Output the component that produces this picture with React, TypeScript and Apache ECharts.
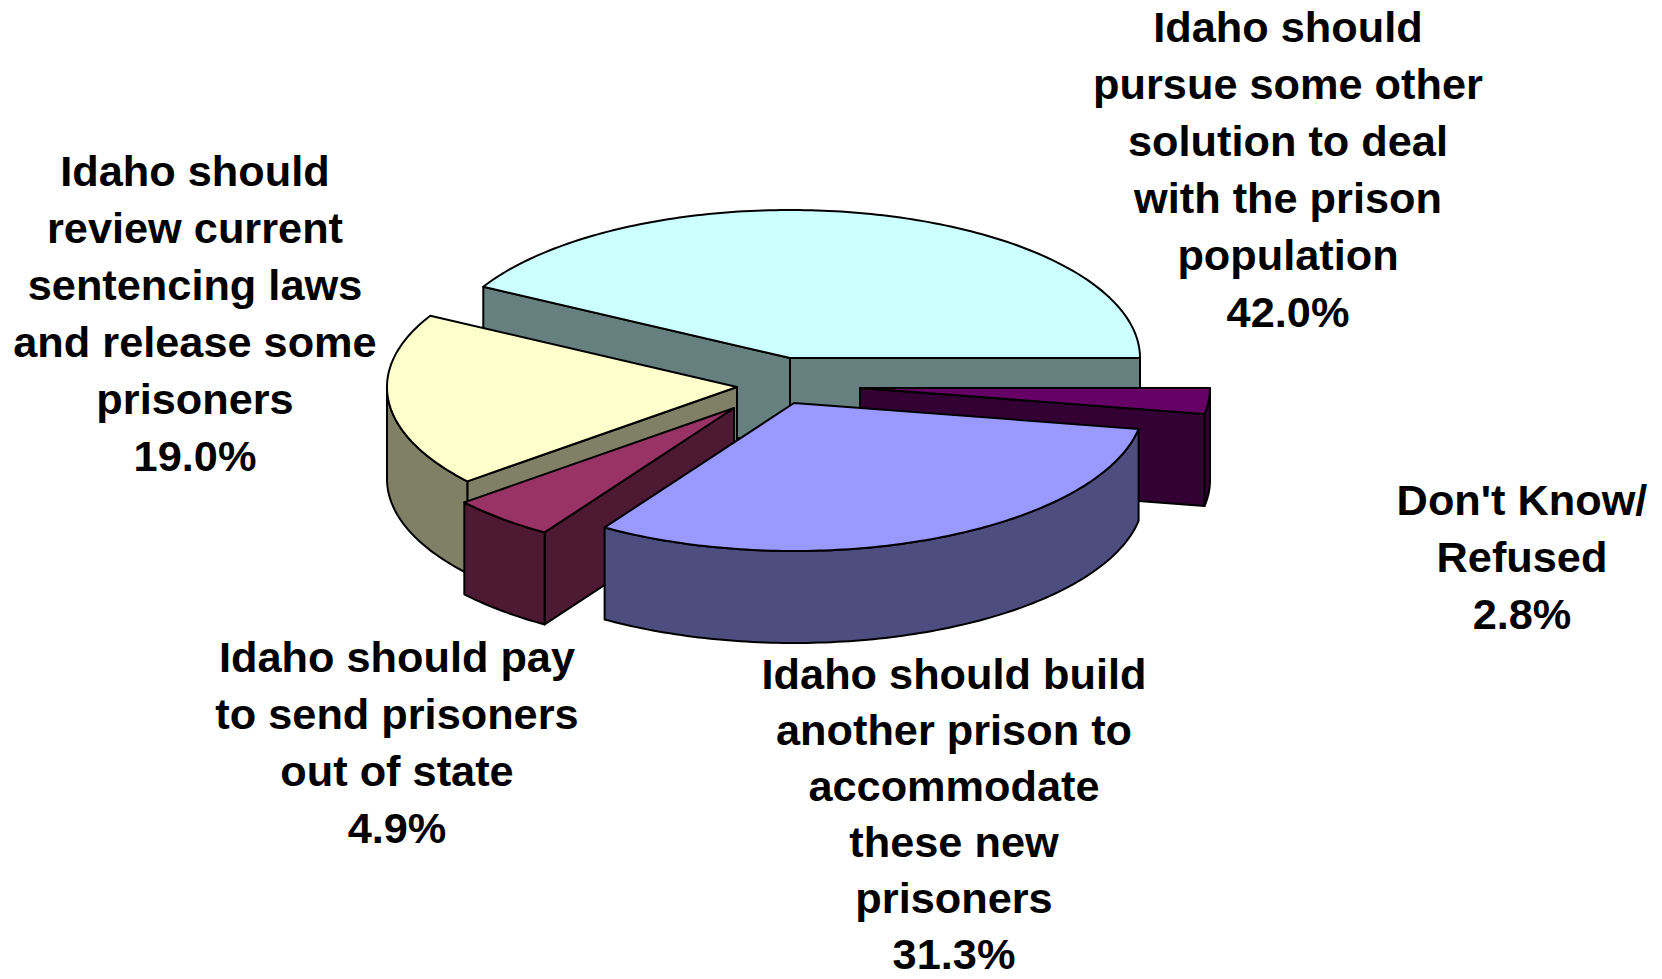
import React, { useEffect, useRef } from "react";
import * as echarts from "echarts";

// Clockwise order, starting from the cyan slice's back edge.
const categories = [
  "Idaho should\npursue some other\nsolution to deal\nwith the prison\npopulation",
  "Don't Know/\nRefused",
  "Idaho should build\nanother prison to\naccommodate\nthese new\nprisoners",
  "Idaho should pay\nto send prisoners\nout of state",
  "Idaho should\nreview current\nsentencing laws\nand release some\nprisoners",
];
const values = [42.0, 2.8, 31.3, 4.9, 19.0];

// Styling and layout
const topColors = ["#CCFFFF", "#660066", "#9999FF", "#993366", "#FFFFCC"];
const wallColors = ["#668080", "#330033", "#4D4D80", "#4D1933", "#808066"];
const sliceCenters = [
  [790, 358],
  [860, 388],
  [794, 403],
  [734, 408],
  [737, 387],
];
const labelAnchors = [
  [1288, -2],
  [1522, 471],
  [954, 646],
  [397, 628],
  [195, 142],
];
const labelLineHeights = [57, 57, 56, 57, 57];
const drawOrder = [0, 1, 4, 3, 2];
const RX = 350;
const RY = 148;
const DEPTH = 92;

const total = values.reduce((a, b) => a + b, 0);
const startDeg = (values[0] / total) * 360;
const sliceAngles = (i: number) => {
  const before = values.slice(0, i).reduce((a, b) => a + b, 0);
  const a0 = startDeg - (before / total) * 360;
  const a1 = a0 - (values[i] / total) * 360;
  return [a0, a1];
};
const rad = (d: number) => (d * Math.PI) / 180;

const renderSlice = (_params: any, api: any) => {
  const i = api.value(0) as number;
  const v = api.value(1) as number;
  const [cx, cy] = sliceCenters[i];
  const [a0, a1] = sliceAngles(i);
  const pt = (a: number, dy = 0) => [cx + RX * Math.cos(rad(a)), cy - RY * Math.sin(rad(a)) + dy];
  const arc = (from: number, to: number, dy = 0) => {
    const n = Math.max(1, Math.ceil(Math.abs(from - to)));
    const out: number[][] = [];
    for (let k = 0; k <= n; k++) out.push(pt(from + ((to - from) * k) / n, dy));
    return out;
  };
  const stroke = { stroke: "#000", lineWidth: 2, lineJoin: "round" };
  const children: any[] = [];
  const face = (a: number) => ({
    type: "polygon",
    shape: { points: [[cx, cy], pt(a), pt(a, DEPTH), [cx, cy + DEPTH]] },
    style: { fill: wallColors[i], ...stroke },
  });
  if (Math.cos(rad(a0)) < 0) children.push(face(a0));
  if (Math.cos(rad(a1)) > 0) children.push(face(a1));
  const hi = Math.min(a0, 0);
  const lo = Math.max(a1, -180);
  if (hi > lo) {
    children.push({
      type: "polygon",
      shape: { points: [...arc(hi, lo), ...arc(lo, hi, DEPTH)] },
      style: { fill: wallColors[i], ...stroke },
    });
  }
  children.push({
    type: "polygon",
    shape: { points: [[cx, cy], ...arc(a0, a1)] },
    style: { fill: topColors[i], ...stroke },
  });
  children.push({
    type: "text",
    style: {
      text: `${categories[i]}\n${v.toFixed(1)}%`,
      x: labelAnchors[i][0],
      y: labelAnchors[i][1],
      align: "center",
      verticalAlign: "top",
      fontFamily: '"Liberation Sans", Arial, sans-serif',
      fontWeight: "bold",
      fontSize: 43.3,
      lineHeight: labelLineHeights[i],
      fill: "#000",
    },
  });
  return { type: "group", children };
};

export default function App() {
  const ref = useRef<HTMLDivElement>(null);
  useEffect(() => {
    const chart = echarts.init(ref.current!, undefined, { renderer: "svg" });
    chart.setOption({
      animation: false,
      backgroundColor: "#fff",
      series: [
        {
          type: "custom",
          coordinateSystem: "none",
          silent: true,
          clip: false,
          renderItem: renderSlice,
          data: drawOrder.map((i) => [i, values[i]]),
        },
      ],
    });
    return () => chart.dispose();
  }, []);
  return (
    <div
      ref={ref}
      style={{ position: "fixed", left: 0, top: 0, width: 1662, height: 979, background: "#fff" }}
    />
  );
}
